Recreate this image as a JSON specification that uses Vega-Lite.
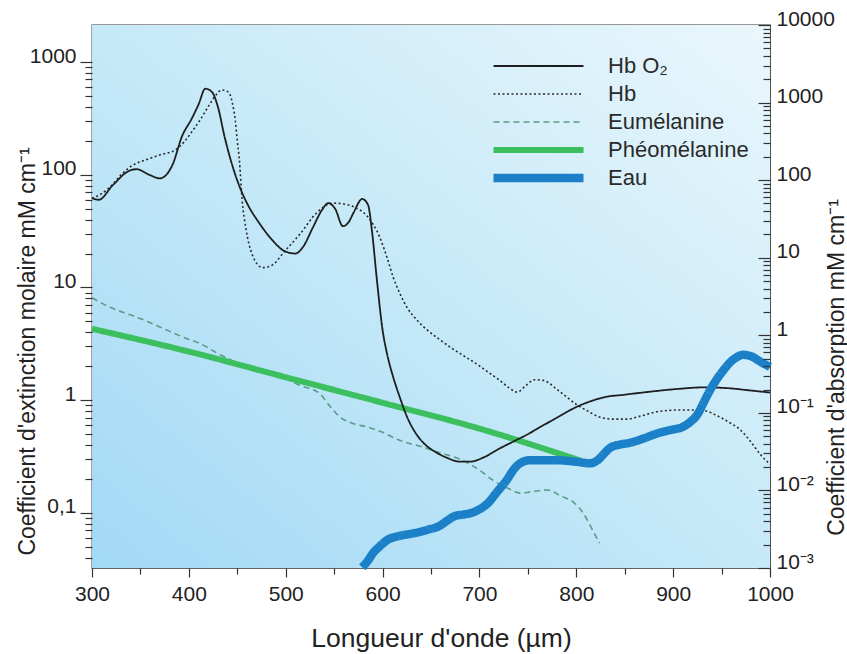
{
  "$schema": "https://vega.github.io/schema/vega-lite/v6.json",
  "width": 678,
  "height": 543,
  "autosize": {"type": "none"},
  "padding": {"left": 92, "top": 25, "right": 77, "bottom": 86},
  "background": "white",
  "config": {
    "font": "Liberation Sans",
    "view": {"stroke": "#333", "strokeWidth": 1.3},
    "axis": {"zindex": 1, "tickColor": "#333", "tickWidth": 1.2, "grid": false, "domain": false, "labelOverlap": false, "labelFlush": false, "labelBound": false, "labelColor": "#222", "titleColor": "#222", "titleFontWeight": "normal"}
  },
  "datasets": {
    "curves": [
      {"series": "Hb O₂", "wl": 300, "v": 62}, {"series": "Hb O₂", "wl": 307, "v": 60}, {"series": "Hb O₂", "wl": 321, "v": 80},
      {"series": "Hb O₂", "wl": 338, "v": 108}, {"series": "Hb O₂", "wl": 346, "v": 112}, {"series": "Hb O₂", "wl": 359, "v": 100},
      {"series": "Hb O₂", "wl": 370, "v": 93}, {"series": "Hb O₂", "wl": 383, "v": 122}, {"series": "Hb O₂", "wl": 393, "v": 220},
      {"series": "Hb O₂", "wl": 403, "v": 315}, {"series": "Hb O₂", "wl": 410, "v": 420}, {"series": "Hb O₂", "wl": 417, "v": 580},
      {"series": "Hb O₂", "wl": 424, "v": 540}, {"series": "Hb O₂", "wl": 430, "v": 400}, {"series": "Hb O₂", "wl": 437, "v": 215},
      {"series": "Hb O₂", "wl": 445, "v": 120}, {"series": "Hb O₂", "wl": 452, "v": 80}, {"series": "Hb O₂", "wl": 462, "v": 52},
      {"series": "Hb O₂", "wl": 472, "v": 38}, {"series": "Hb O₂", "wl": 485, "v": 27}, {"series": "Hb O₂", "wl": 499, "v": 21},
      {"series": "Hb O₂", "wl": 510, "v": 20}, {"series": "Hb O₂", "wl": 518, "v": 23}, {"series": "Hb O₂", "wl": 528, "v": 34},
      {"series": "Hb O₂", "wl": 537, "v": 48}, {"series": "Hb O₂", "wl": 544, "v": 56}, {"series": "Hb O₂", "wl": 551, "v": 50},
      {"series": "Hb O₂", "wl": 559, "v": 35}, {"series": "Hb O₂", "wl": 565, "v": 38}, {"series": "Hb O₂", "wl": 570, "v": 46},
      {"series": "Hb O₂", "wl": 579, "v": 61}, {"series": "Hb O₂", "wl": 585, "v": 54}, {"series": "Hb O₂", "wl": 589, "v": 32},
      {"series": "Hb O₂", "wl": 594, "v": 12}, {"series": "Hb O₂", "wl": 600, "v": 4.2}, {"series": "Hb O₂", "wl": 605, "v": 2.5},
      {"series": "Hb O₂", "wl": 611, "v": 1.6}, {"series": "Hb O₂", "wl": 618, "v": 1.05}, {"series": "Hb O₂", "wl": 625, "v": 0.72},
      {"series": "Hb O₂", "wl": 633, "v": 0.53}, {"series": "Hb O₂", "wl": 642, "v": 0.42}, {"series": "Hb O₂", "wl": 654, "v": 0.35},
      {"series": "Hb O₂", "wl": 666, "v": 0.31}, {"series": "Hb O₂", "wl": 680, "v": 0.285}, {"series": "Hb O₂", "wl": 690, "v": 0.285},
      {"series": "Hb O₂", "wl": 704, "v": 0.31}, {"series": "Hb O₂", "wl": 720, "v": 0.37}, {"series": "Hb O₂", "wl": 735, "v": 0.43},
      {"series": "Hb O₂", "wl": 750, "v": 0.5}, {"series": "Hb O₂", "wl": 763, "v": 0.58}, {"series": "Hb O₂", "wl": 780, "v": 0.7},
      {"series": "Hb O₂", "wl": 800, "v": 0.87}, {"series": "Hb O₂", "wl": 815, "v": 0.98}, {"series": "Hb O₂", "wl": 828, "v": 1.06},
      {"series": "Hb O₂", "wl": 850, "v": 1.12}, {"series": "Hb O₂", "wl": 876, "v": 1.19}, {"series": "Hb O₂", "wl": 905, "v": 1.26},
      {"series": "Hb O₂", "wl": 931, "v": 1.3}, {"series": "Hb O₂", "wl": 956, "v": 1.28}, {"series": "Hb O₂", "wl": 980, "v": 1.22},
      {"series": "Hb O₂", "wl": 1000, "v": 1.17},

      {"series": "Hb", "wl": 300, "v": 62}, {"series": "Hb", "wl": 310, "v": 68}, {"series": "Hb", "wl": 320, "v": 80},
      {"series": "Hb", "wl": 330, "v": 100}, {"series": "Hb", "wl": 341, "v": 120}, {"series": "Hb", "wl": 355, "v": 135},
      {"series": "Hb", "wl": 370, "v": 150}, {"series": "Hb", "wl": 386, "v": 166}, {"series": "Hb", "wl": 395, "v": 195},
      {"series": "Hb", "wl": 403, "v": 240}, {"series": "Hb", "wl": 412, "v": 310}, {"series": "Hb", "wl": 421, "v": 415},
      {"series": "Hb", "wl": 428, "v": 510}, {"series": "Hb", "wl": 434, "v": 565}, {"series": "Hb", "wl": 441, "v": 540},
      {"series": "Hb", "wl": 445, "v": 430}, {"series": "Hb", "wl": 448, "v": 300}, {"series": "Hb", "wl": 450, "v": 200},
      {"series": "Hb", "wl": 452, "v": 140}, {"series": "Hb", "wl": 455, "v": 60}, {"series": "Hb", "wl": 459, "v": 33},
      {"series": "Hb", "wl": 465, "v": 20}, {"series": "Hb", "wl": 476, "v": 15}, {"series": "Hb", "wl": 486, "v": 15.8},
      {"series": "Hb", "wl": 499, "v": 21}, {"series": "Hb", "wl": 515, "v": 30}, {"series": "Hb", "wl": 532, "v": 46},
      {"series": "Hb", "wl": 549, "v": 56}, {"series": "Hb", "wl": 560, "v": 55}, {"series": "Hb", "wl": 570, "v": 52},
      {"series": "Hb", "wl": 584, "v": 43}, {"series": "Hb", "wl": 597, "v": 28}, {"series": "Hb", "wl": 605, "v": 18},
      {"series": "Hb", "wl": 611, "v": 12.3}, {"series": "Hb", "wl": 618, "v": 8.8}, {"series": "Hb", "wl": 625, "v": 6.7},
      {"series": "Hb", "wl": 635, "v": 5.2}, {"series": "Hb", "wl": 646, "v": 4.2}, {"series": "Hb", "wl": 658, "v": 3.5},
      {"series": "Hb", "wl": 670, "v": 2.95}, {"series": "Hb", "wl": 683, "v": 2.5}, {"series": "Hb", "wl": 697, "v": 2.1},
      {"series": "Hb", "wl": 710, "v": 1.75}, {"series": "Hb", "wl": 721, "v": 1.5}, {"series": "Hb", "wl": 730, "v": 1.3},
      {"series": "Hb", "wl": 739, "v": 1.18}, {"series": "Hb", "wl": 748, "v": 1.35}, {"series": "Hb", "wl": 757, "v": 1.52},
      {"series": "Hb", "wl": 766, "v": 1.5}, {"series": "Hb", "wl": 780, "v": 1.25}, {"series": "Hb", "wl": 790, "v": 1.07},
      {"series": "Hb", "wl": 800, "v": 0.92}, {"series": "Hb", "wl": 812, "v": 0.8}, {"series": "Hb", "wl": 824, "v": 0.71},
      {"series": "Hb", "wl": 838, "v": 0.68}, {"series": "Hb", "wl": 852, "v": 0.68}, {"series": "Hb", "wl": 868, "v": 0.73},
      {"series": "Hb", "wl": 883, "v": 0.79}, {"series": "Hb", "wl": 907, "v": 0.82}, {"series": "Hb", "wl": 928, "v": 0.82},
      {"series": "Hb", "wl": 948, "v": 0.71}, {"series": "Hb", "wl": 960, "v": 0.62}, {"series": "Hb", "wl": 969, "v": 0.55},
      {"series": "Hb", "wl": 980, "v": 0.43}, {"series": "Hb", "wl": 990, "v": 0.33}, {"series": "Hb", "wl": 1000, "v": 0.27},

      {"series": "Eumélanine", "wl": 300, "v": 8.1}, {"series": "Eumélanine", "wl": 320, "v": 6.6}, {"series": "Eumélanine", "wl": 340, "v": 5.7},
      {"series": "Eumélanine", "wl": 357, "v": 5.0}, {"series": "Eumélanine", "wl": 377, "v": 4.2}, {"series": "Eumélanine", "wl": 395, "v": 3.6},
      {"series": "Eumélanine", "wl": 411, "v": 3.2}, {"series": "Eumélanine", "wl": 430, "v": 2.6}, {"series": "Eumélanine", "wl": 450, "v": 2.15},
      {"series": "Eumélanine", "wl": 470, "v": 1.85}, {"series": "Eumélanine", "wl": 497, "v": 1.6}, {"series": "Eumélanine", "wl": 515, "v": 1.35},
      {"series": "Eumélanine", "wl": 535, "v": 1.15}, {"series": "Eumélanine", "wl": 545, "v": 0.9}, {"series": "Eumélanine", "wl": 556, "v": 0.71},
      {"series": "Eumélanine", "wl": 570, "v": 0.62}, {"series": "Eumélanine", "wl": 584, "v": 0.58}, {"series": "Eumélanine", "wl": 600, "v": 0.52},
      {"series": "Eumélanine", "wl": 615, "v": 0.45}, {"series": "Eumélanine", "wl": 639, "v": 0.39}, {"series": "Eumélanine", "wl": 660, "v": 0.34},
      {"series": "Eumélanine", "wl": 680, "v": 0.3}, {"series": "Eumélanine", "wl": 700, "v": 0.24}, {"series": "Eumélanine", "wl": 714, "v": 0.195},
      {"series": "Eumélanine", "wl": 730, "v": 0.165}, {"series": "Eumélanine", "wl": 742, "v": 0.15}, {"series": "Eumélanine", "wl": 755, "v": 0.155},
      {"series": "Eumélanine", "wl": 770, "v": 0.16}, {"series": "Eumélanine", "wl": 785, "v": 0.14}, {"series": "Eumélanine", "wl": 797, "v": 0.125},
      {"series": "Eumélanine", "wl": 807, "v": 0.1}, {"series": "Eumélanine", "wl": 817, "v": 0.07}, {"series": "Eumélanine", "wl": 824, "v": 0.054},

      {"series": "Phéomélanine", "wl": 300, "v": 4.3}, {"series": "Phéomélanine", "wl": 400, "v": 2.7}, {"series": "Phéomélanine", "wl": 500, "v": 1.6},
      {"series": "Phéomélanine", "wl": 600, "v": 0.95}, {"series": "Phéomélanine", "wl": 700, "v": 0.56}, {"series": "Phéomélanine", "wl": 805, "v": 0.29},

      {"series": "Eau", "wl": 579, "v": 0.00102}, {"series": "Eau", "wl": 585, "v": 0.00125}, {"series": "Eau", "wl": 590, "v": 0.00155},
      {"series": "Eau", "wl": 597, "v": 0.0019}, {"series": "Eau", "wl": 605, "v": 0.0023}, {"series": "Eau", "wl": 618, "v": 0.0026},
      {"series": "Eau", "wl": 632, "v": 0.0028}, {"series": "Eau", "wl": 646, "v": 0.0031}, {"series": "Eau", "wl": 659, "v": 0.0035},
      {"series": "Eau", "wl": 667, "v": 0.0041}, {"series": "Eau", "wl": 675, "v": 0.0047}, {"series": "Eau", "wl": 684, "v": 0.0049},
      {"series": "Eau", "wl": 693, "v": 0.0052}, {"series": "Eau", "wl": 701, "v": 0.0058}, {"series": "Eau", "wl": 708, "v": 0.0067},
      {"series": "Eau", "wl": 718, "v": 0.0095}, {"series": "Eau", "wl": 728, "v": 0.0135}, {"series": "Eau", "wl": 736, "v": 0.019},
      {"series": "Eau", "wl": 742, "v": 0.0224}, {"series": "Eau", "wl": 752, "v": 0.0245}, {"series": "Eau", "wl": 765, "v": 0.0245},
      {"series": "Eau", "wl": 780, "v": 0.0245}, {"series": "Eau", "wl": 800, "v": 0.0234}, {"series": "Eau", "wl": 814, "v": 0.0224},
      {"series": "Eau", "wl": 822, "v": 0.0245}, {"series": "Eau", "wl": 830, "v": 0.031}, {"series": "Eau", "wl": 835, "v": 0.0355},
      {"series": "Eau", "wl": 845, "v": 0.039}, {"series": "Eau", "wl": 855, "v": 0.041}, {"series": "Eau", "wl": 870, "v": 0.047},
      {"series": "Eau", "wl": 883, "v": 0.054}, {"series": "Eau", "wl": 897, "v": 0.06}, {"series": "Eau", "wl": 910, "v": 0.066},
      {"series": "Eau", "wl": 918, "v": 0.077}, {"series": "Eau", "wl": 925, "v": 0.095}, {"series": "Eau", "wl": 932, "v": 0.14},
      {"series": "Eau", "wl": 938, "v": 0.195}, {"series": "Eau", "wl": 945, "v": 0.27}, {"series": "Eau", "wl": 952, "v": 0.355},
      {"series": "Eau", "wl": 959, "v": 0.45}, {"series": "Eau", "wl": 966, "v": 0.525}, {"series": "Eau", "wl": 972, "v": 0.56},
      {"series": "Eau", "wl": 980, "v": 0.54}, {"series": "Eau", "wl": 990, "v": 0.457}, {"series": "Eau", "wl": 1000, "v": 0.39}
    ]
  },
  "data": {"name": "curves"},
  "resolve": {"scale": {"y": "independent"}, "axis": {"x": "independent"}},
  "layer": [
    {
      "data": {"values": [{"area": "plot"}]},
      "mark": {"type": "rect", "fill": {"gradient": "linear", "x1": 0, "y1": 1, "x2": 1, "y2": 0, "stops": [{"offset": 0, "color": "#a2d9f5"}, {"offset": 0.5, "color": "#c6e9f8"}, {"offset": 1, "color": "#eaf7fc"}]}},
      "encoding": {
        "x": {"datum": 300, "type": "quantitative", "scale": {"domain": [300, 1000], "nice": false, "zero": false},
          "axis": {"orient": "bottom", "zindex": 2, "values": [300, 400, 500, 600, 700, 800, 900, 1000], "format": "d", "tickSize": 9, "labelPadding": 6, "labelFontSize": 21,
            "title": "Longueur d'onde (µm)", "titleFontSize": 26.5, "titleX": 349, "titleY": 78, "titleBaseline": "alphabetic", "titleAlign": "center", "titleAnchor": null}},
        "x2": {"datum": 1000},
        "y": {"datum": 0.001, "type": "quantitative", "scale": {"type": "log", "domain": [0.001, 10000], "nice": false},
          "axis": {"orient": "right", "zindex": 2, "offset": -12, "values": [0.001, 0.01, 0.1, 1, 10, 100, 1000, 10000], "tickSize": 12, "tickColor": "#333", "labelPadding": 6, "labelBaseline": "alphabetic", "labelFontSize": 21,
            "labelExpr": "datum.value >= 1 ? format(datum.value, 'd') : datum.value > 0.05 ? '10⁻¹' : datum.value > 0.005 ? '10⁻²' : '10⁻³'",
            "title": "Coefficient d'absorption mM cm⁻¹", "titleFontSize": 23, "titleAngle": -90, "titleX": 78, "titleY": 342, "titleBaseline": "middle", "titleAlign": "center"}},
        "y2": {"datum": 10000}
      }
    },
    {
      "transform": [{"filter": {"field": "series", "oneOf": ["Eumélanine", "Phéomélanine"]}}],
      "mark": {"type": "line", "interpolate": "monotone"},
      "encoding": {
        "x": {"field": "wl", "type": "quantitative", "scale": {"domain": [300, 1000], "nice": false, "zero": false},
          "axis": {"orient": "bottom", "zindex": 2, "values": [350, 450, 550, 650, 750, 850, 950], "labels": false, "tickSize": 6, "title": null}},
        "y": {"field": "v", "type": "quantitative", "scale": {"type": "log", "domain": [0.0325, 2130], "nice": false},
          "axis": {"orient": "left", "zindex": 2, "values": [0.04, 0.05, 0.06, 0.07, 0.08, 0.09, 0.2, 0.3, 0.4, 0.5, 0.6, 0.7, 0.8, 0.9, 2, 3, 4, 5, 6, 7, 8, 9, 20, 30, 40, 50, 60, 70, 80, 90, 200, 300, 400, 500, 600, 700, 800, 900], "labels": false, "tickSize": 7, "title": null}},
        "color": {"field": "series", "type": "nominal", "scale": {"domain": ["Hb O₂", "Hb", "Eumélanine", "Phéomélanine", "Eau"], "range": ["#1e1e1e", "#2a2a2a", "#5a9c86", "#3cbf5f", "#1b80c8"]},
          "legend": {"orient": "none", "legendX": 397, "legendY": 31, "title": null, "symbolType": "stroke", "symbolSize": 8100, "clipHeight": 20, "labelFontSize": 22, "labelColor": "#2a2a2a", "labelOffset": 20, "rowPadding": 6, "padding": 0}},
        "strokeDash": {"field": "series", "type": "nominal", "scale": {"domain": ["Hb O₂", "Hb", "Eumélanine", "Phéomélanine", "Eau"], "range": [[1, 0], [2, 2.5], [6, 4], [1, 0], [1, 0]]}},
        "strokeWidth": {"field": "series", "type": "nominal", "scale": {"type": "ordinal", "domain": ["Hb O₂", "Hb", "Eumélanine", "Phéomélanine", "Eau"], "range": [1.8, 1.6, 1.6, 6, 8.5]}}
      }
    },
    {
      "transform": [{"filter": {"field": "series", "oneOf": ["Hb O₂", "Hb"]}}],
      "mark": {"type": "line", "interpolate": "monotone"},
      "encoding": {
        "x": {"field": "wl", "type": "quantitative", "scale": {"domain": [300, 1000], "nice": false, "zero": false}, "axis": null},
        "y": {"field": "v", "type": "quantitative", "scale": {"type": "log", "domain": [0.0325, 2130], "nice": false},
          "axis": {"orient": "left", "zindex": 2, "values": [0.1, 1, 10, 100, 1000], "tickSize": 12, "labelPadding": 4, "labelBaseline": "alphabetic", "labelFontSize": 21,
            "labelExpr": "datum.value < 0.5 ? '0,1' : format(datum.value, 'd')",
            "title": "Coefficient d'extinction molaire mM cm⁻¹", "titleFontSize": 23, "titleAngle": -90, "titleX": -65, "titleY": 326, "titleBaseline": "middle", "titleAlign": "center"}},
        "color": {"field": "series", "type": "nominal", "scale": {"domain": ["Hb O₂", "Hb", "Eumélanine", "Phéomélanine", "Eau"], "range": ["#1e1e1e", "#2a2a2a", "#5a9c86", "#3cbf5f", "#1b80c8"]}},
        "strokeDash": {"field": "series", "type": "nominal", "scale": {"domain": ["Hb O₂", "Hb", "Eumélanine", "Phéomélanine", "Eau"], "range": [[1, 0], [2, 2.5], [6, 4], [1, 0], [1, 0]]}},
        "strokeWidth": {"field": "series", "type": "nominal", "scale": {"type": "ordinal", "domain": ["Hb O₂", "Hb", "Eumélanine", "Phéomélanine", "Eau"], "range": [1.8, 1.6, 1.6, 6, 8.5]}}
      }
    },
    {
      "transform": [{"filter": {"field": "series", "equal": "Eau"}}],
      "mark": {"type": "line", "interpolate": "monotone"},
      "encoding": {
        "x": {"field": "wl", "type": "quantitative", "scale": {"domain": [300, 1000], "nice": false, "zero": false}, "axis": null},
        "y": {"field": "v", "type": "quantitative", "scale": {"type": "log", "domain": [0.001, 10000], "nice": false},
          "axis": {"orient": "right", "zindex": 2, "offset": -7, "values": [0.002, 0.003, 0.004, 0.005, 0.006, 0.007, 0.008, 0.009, 0.02, 0.03, 0.04, 0.05, 0.06, 0.07, 0.08, 0.09, 0.2, 0.3, 0.4, 0.5, 0.6, 0.7, 0.8, 0.9, 2, 3, 4, 5, 6, 7, 8, 9, 20, 30, 40, 50, 60, 70, 80, 90, 200, 300, 400, 500, 600, 700, 800, 900, 2000, 3000, 4000, 5000, 6000, 7000, 8000, 9000], "labels": false, "tickSize": 7, "tickColor": "#333", "title": null}},
        "color": {"field": "series", "type": "nominal", "scale": {"domain": ["Hb O₂", "Hb", "Eumélanine", "Phéomélanine", "Eau"], "range": ["#1e1e1e", "#2a2a2a", "#5a9c86", "#3cbf5f", "#1b80c8"]}},
        "strokeDash": {"field": "series", "type": "nominal", "scale": {"domain": ["Hb O₂", "Hb", "Eumélanine", "Phéomélanine", "Eau"], "range": [[1, 0], [2, 2.5], [6, 4], [1, 0], [1, 0]]}},
        "strokeWidth": {"field": "series", "type": "nominal", "scale": {"type": "ordinal", "domain": ["Hb O₂", "Hb", "Eumélanine", "Phéomélanine", "Eau"], "range": [1.8, 1.6, 1.6, 6, 8.5]}}
      }
    }
  ]
}
